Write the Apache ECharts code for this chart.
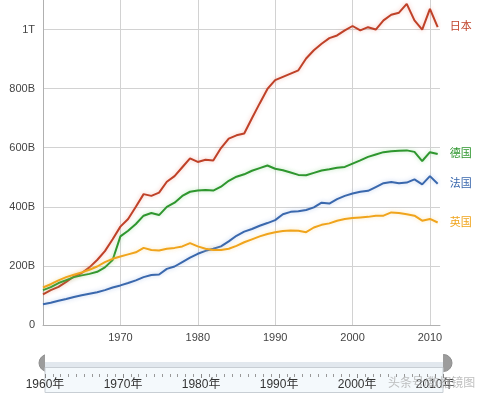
<!DOCTYPE html>
<html>
<head>
<meta charset="utf-8">
<script src="https://cdn.jsdelivr.net/npm/echarts@6/dist/echarts.min.js"></script>
<style>
html,body{margin:0;padding:0;background:#fff;}
#c{width:500px;height:396px;}
</style>
</head>
<body>
<div id="c"></div>
<script>
// Years (x categories)
var years = [];
for (var y = 1960; y <= 2011; y++) years.push(y);

// Values in billions
var japan = [104,118,129,146,164,176,195,220,250,290,333,359,400,443,437,448,485,504,534,564,552,559,557,599,631,642,648,700,750,799,829,840,851,862,902,930,952,971,980,997,1012,997,1008,1000,1031,1050,1057,1087,1031,1000,1070,1008];
var germany = [118,128,142,152,162,168,173,180,195,220,300,319,342,370,379,372,400,414,437,451,455,457,455,468,488,502,510,522,531,540,529,524,516,508,507,515,523,527,532,535,546,557,569,577,585,588,590,591,586,555,585,579];
var france = [70,75,82,88,95,101,106,111,118,127,134,142,151,162,169,171,190,198,213,228,241,251,258,266,283,302,316,325,336,345,355,375,383,385,389,398,414,411,426,437,445,451,454,467,480,484,480,482,493,476,504,478];
var uk = [127,138,151,162,170,178,187,198,213,224,232,239,246,261,254,252,258,261,266,277,266,258,254,254,258,268,280,290,300,308,314,318,320,319,314,330,339,344,353,359,362,364,366,370,370,381,379,375,370,353,359,347];

var seriesNames = ['日本','德国','法国','英国'];
var seriesValues = [japan, germany, france, uk];
var seriesColors = ['#bf4128','#2e962e','#3a68ad','#f0a41c'];
var shadowColors = ['rgba(230,120,100,0.45)','rgba(100,200,100,0.45)','rgba(110,150,220,0.45)','rgba(250,210,120,0.55)'];

var FONT = "Arial, 'Liberation Sans', 'Noto Sans CJK SC', sans-serif";

var chart = echarts.init(document.getElementById('c'), null, {renderer:'canvas'});

var series = seriesNames.map(function(name, k){
  return {
    name: name,
    type: 'line',
    xAxisIndex: 0,
    yAxisIndex: 0,
    symbol: 'none',
    data: years.map(function(yr, i){ return [yr, seriesValues[k][i]]; }),
    lineStyle: {width: 2, color: seriesColors[k], shadowColor: shadowColors[k], shadowBlur: 4},
    itemStyle: {color: seriesColors[k]},
    endLabel: {
      show: true,
      formatter: name,
      color: seriesColors[k],
      fontSize: 11,
      fontFamily: FONT,
      distance: 12
    },
    silent: true,
    animation: false
  };
});

chart.setOption({
  animation: false,
  grid: [
    {left: 43, right: 60, top: -2, bottom: 71},
    {left: 45, right: 57, top: 362, height: 12}
  ],
  xAxis: [
    {
      type: 'value', gridIndex: 0, min: 1960, max: 2011.3, interval: 10,
      axisLine: {show: true, lineStyle: {color: '#b0b0b0'}},
      axisTick: {show: false},
      splitLine: {show: true, showMaxLine: false, lineStyle: {color: '#d2d2d2'}},
      axisLabel: {
        color: '#444', fontSize: 11, fontFamily: FONT, margin: 7,
        showMinLabel: false, showMaxLabel: false,
        formatter: function(v){ return String(v); }
      }
    },
    {
      type: 'value', gridIndex: 1, min: 1960, max: 2011, interval: 10, z: 30,
      axisLine: {show: false},
      axisTick: {show: true, length: 4, lineStyle: {color: '#888'}},
      minorTick: {show: true, splitNumber: 10, length: 3, lineStyle: {color: '#999'}},
      splitLine: {show: false},
      axisLabel: {
        color: '#333', fontSize: 12, fontFamily: FONT, margin: 5,
        showMaxLabel: false,
        formatter: function(v){ return v + '年'; }
      }
    }
  ],
  yAxis: [
    {
      type: 'value', gridIndex: 0, min: 0, max: 1100, interval: 200,
      axisLine: {show: true, lineStyle: {color: '#b0b0b0'}},
      axisTick: {show: false},
      splitLine: {show: true, showMaxLine: false, lineStyle: {color: '#d2d2d2'}},
      axisLabel: {
        color: '#444', fontSize: 11, fontFamily: FONT, margin: 8,
        showMaxLabel: false,
        formatter: function(v){
          if (v === 0) return '0';
          if (v >= 1000) return (v/1000) + 'T';
          return v + 'B';
        }
      }
    },
    {
      type: 'value', gridIndex: 1, show: false
    }
  ],
  dataZoom: [{
    type: 'slider',
    xAxisIndex: 0,
    filterMode: 'none',
    start: 0, end: 100,
    left: 45, right: 57, top: 359, height: 8,
    showDetail: false,
    showDataShadow: false,
    brushSelect: false,
    moveHandleSize: 0,
    backgroundColor: '#e3e9ef',
    fillerColor: 'rgba(215,224,232,0.6)',
    borderColor: 'transparent',
    handleIcon: 'circle',
    handleSize: 17,
    handleStyle: {color: '#9c9c9c', borderColor: '#8e8e8e'},
    emphasis: {handleStyle: {color: '#9c9c9c', borderColor: '#8e8e8e'}}
  }],
  graphic: [
    {
      type: 'rect', z: 20, silent: true,
      shape: {x: 45, y: 352, width: 398, height: 10},
      style: {fill: '#ffffff', stroke: null}
    },
    {
      type: 'rect', z: 20, silent: true,
      shape: {x: 45, y: 362, width: 398, height: 6},
      style: {fill: '#e2e8ee', stroke: null}
    },
    {
      type: 'rect', z: 20, silent: true,
      shape: {x: 45, y: 367.5, width: 398, height: 25},
      style: {fill: '#f4f9fc', stroke: '#c8ced4', lineWidth: 1}
    },
    {
      type: 'text', z: 50, silent: true,
      left: 388, top: 378,
      style: {text: '头条号/数据镜图', fill: 'rgba(170,170,170,0.75)', fontSize: 12, fontFamily: FONT}
    }
  ],
  series: series
});
</script>
</body>
</html>
